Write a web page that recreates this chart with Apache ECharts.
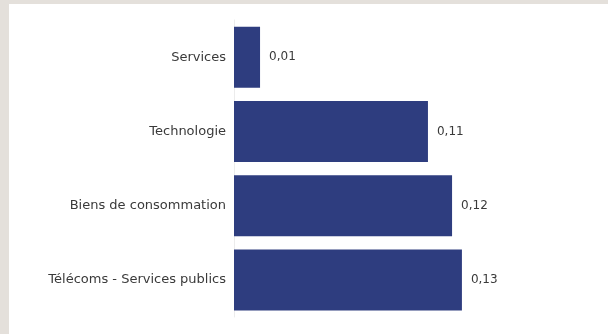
<!DOCTYPE html>
<html>
<head>
<meta charset="utf-8">
<script src="https://cdn.jsdelivr.net/npm/echarts@6/dist/echarts.min.js"></script>
<style>
  html, body { margin: 0; padding: 0; }
  body { width: 608px; height: 334px; background: #e4e0db; position: relative; overflow: hidden; }
  #chart { position: absolute; left: 9px; top: 4px; width: 599px; height: 330px; background: #ffffff; }
</style>
</head>
<body>
<div id="chart"></div>
<script>
// Sector categories, top to bottom
const categories = ['Services', 'Technologie', 'Biens de consommation', 'Télécoms - Services publics'];
// Sector values (displayed rounded to two decimals)
const values = [0.0148, 0.1102, 0.1239, 0.1295];

const fmt = v => v.toFixed(2).replace('.', ',');

const chart = echarts.init(document.getElementById('chart'), null, { renderer: 'canvas' });
chart.setOption({
  animation: false,
  backgroundColor: '#ffffff',
  grid: { left: 225, right: 22, top: 16, bottom: 17, containLabel: false },
  xAxis: {
    type: 'value',
    min: 0,
    max: 0.2,
    show: false
  },
  yAxis: {
    type: 'category',
    data: categories,
    inverse: true,
    axisLine: { show: true, lineStyle: { color: '#ececec', width: 1 } },
    axisTick: { show: false },
    axisLabel: {
      margin: 8,
      color: '#3a3a3a',
      fontFamily: 'DejaVu Sans',
      fontSize: 13
    }
  },
  series: [{
    type: 'bar',
    data: values,
    barWidth: 61,
    itemStyle: { color: '#2e3d7f' },
    label: {
      show: true,
      position: 'right',
      distance: 9,
      color: '#3a3a3a',
      fontFamily: 'DejaVu Sans',
      fontSize: 12,
      formatter: p => fmt(p.value)
    }
  }]
});
</script>
</body>
</html>
